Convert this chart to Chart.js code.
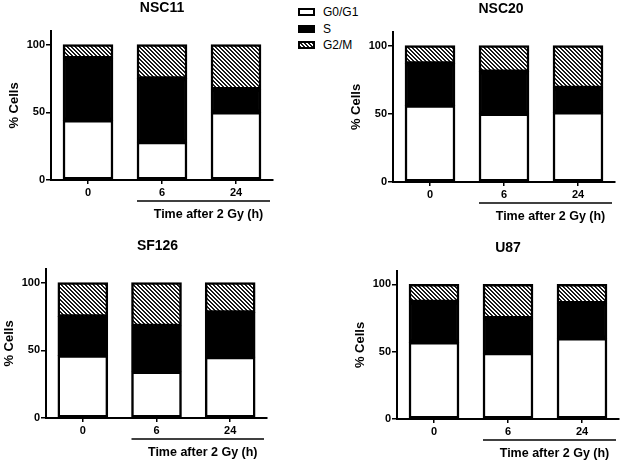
<!DOCTYPE html>
<html>
<head>
<meta charset="utf-8">
<script src="https://cdn.jsdelivr.net/npm/chart.js@4"></script>
<style>
  html, body { margin: 0; padding: 0; background: #fff; }
  body { width: 625px; height: 462px; position: relative; overflow: hidden;
         font-family: "Liberation Sans", Arial, sans-serif; }
  canvas.panel { position: absolute; left: 0; top: 0; }
  .legend { position: absolute; left: 298px; top: 0; width: 90px; height: 60px; }
  .row { position: absolute; left: 0; height: 16px; width: 90px; }
  .row canvas { position: absolute; left: 0; top: 4px; }
  .row span { position: absolute; left: 25px; top: 0; line-height: 16px; font-size: 12px; color: #000; white-space: nowrap; }
</style>
</head>
<body>
<div class="legend" id="legend"></div>
<canvas class="panel" id="p1" width="625" height="462"></canvas>
<canvas class="panel" id="p2" width="625" height="462"></canvas>
<canvas class="panel" id="p3" width="625" height="462"></canvas>
<canvas class="panel" id="p4" width="625" height="462"></canvas>
<script>
// ---------- data ----------
const categories = ['0', '6', '24'];
const phaseNames = ['G0/G1', 'S', 'G2/M'];
const panelTitles = ['NSC11', 'NSC20', 'SF126', 'U87'];
const yTickValues = [0, 50, 100];
const yAxisTitle = '% Cells';
const xAxisTitle = 'Time after 2 Gy (h)';

const nsc11G0 = [44, 28, 50];
const nsc11S  = [46, 47, 17];
const nsc11G2 = [10, 25, 33];

const nsc20G0 = [56, 50, 51];
const nsc20S  = [31, 31, 18];
const nsc20G2 = [13, 19, 31];

const sf126G0 = [46, 34, 45];
const sf126S  = [29, 34, 33];
const sf126G2 = [25, 32, 22];

const u87G0 = [57, 49, 60];
const u87S  = [30, 26, 26];
const u87G2 = [13, 25, 14];

// ---------- styling / layout ----------
const FONT = '"Liberation Sans", Arial, sans-serif';
Chart.defaults.font.family = FONT;
Chart.defaults.color = '#000';

function makeHatchTile() {
  const c = document.createElement('canvas');
  c.width = 4; c.height = 4;
  const g = c.getContext('2d');
  g.fillStyle = '#fff'; g.fillRect(0, 0, 4, 4);
  g.fillStyle = '#1a1a1a';
  for (let i = 0; i < 4; i++) {
    g.fillRect(i, i, 1, 1);
    g.fillRect((i + 1) % 4, i, 1, 1);
  }
  return c;
}
const hatchTile = makeHatchTile();
const tmpCtx = document.createElement('canvas').getContext('2d');
const hatch = tmpCtx.createPattern(hatchTile, 'repeat');
const phaseFills = ['#ffffff', '#000000', hatch];

// legend
(function buildLegend() {
  const lg = document.getElementById('legend');
  const centers = [12, 28.5, 45];
  phaseNames.forEach((name, i) => {
    const row = document.createElement('div');
    row.className = 'row';
    row.style.top = (centers[i] - 8) + 'px';
    const sw = document.createElement('canvas');
    sw.width = 17; sw.height = 8;
    const g = sw.getContext('2d');
    g.fillStyle = '#000'; g.fillRect(0, 0, 17, 8);
    g.fillStyle = phaseFills[i]; g.fillRect(2, 2, 13, 4);
    row.appendChild(sw);
    const sp = document.createElement('span');
    sp.textContent = name;
    row.appendChild(sp);
    lg.appendChild(row);
  });
})();

const BAR_W = 50;

const decor = {
  id: 'decor',
  afterDraw(chart, args, o) {
    const { ctx, chartArea: a } = chart;
    const x = chart.scales.x;
    ctx.save();
    ctx.fillStyle = '#000';
    ctx.strokeStyle = '#000';
    ctx.textAlign = 'center';
    ctx.textBaseline = 'middle';
    // panel title
    ctx.font = 'bold 14px ' + FONT;
    ctx.fillText(o.title, (a.left + a.right) / 2 + o.titleDx, a.top - 23);
    // y title
    ctx.save();
    ctx.translate(a.left - 36.5, (a.top + a.bottom) / 2);
    ctx.rotate(-Math.PI / 2);
    ctx.font = 'bold 13px ' + FONT;
    ctx.fillText(yAxisTitle, 0, 0);
    ctx.restore();
    // underline + x title
    const x0 = x.getPixelForValue(1) - BAR_W / 2;
    const x1 = a.right - 3;
    ctx.lineWidth = 1.5;
    ctx.beginPath();
    ctx.moveTo(x0, a.bottom + 21);
    ctx.lineTo(x1, a.bottom + 21);
    ctx.stroke();
    ctx.font = 'bold 12.5px ' + FONT;
    ctx.fillText(xAxisTitle, (x0 + x1) / 2 + 5, a.bottom + 34.5);
    ctx.restore();
  }
};

function makePanel(id, title, g0, s, g2, geo) {
  const W = 625, H = 462;
  const series = [g0, s, g2];
  new Chart(document.getElementById(id), {
    type: 'bar',
    data: {
      labels: categories,
      datasets: phaseNames.map((name, i) => ({
        label: name,
        data: series[i],
        backgroundColor: phaseFills[i],
        borderColor: '#000',
        borderWidth: 2.5,
        borderSkipped: false,
        barThickness: BAR_W
      }))
    },
    options: {
      responsive: false,
      animation: false,
      events: [],
      layout: { padding: { left: 0, top: geo.top, right: W - geo.right, bottom: 0 } },
      plugins: {
        legend: { display: false },
        tooltip: { enabled: false },
        title: { display: false },
        decor: { title: title, titleDx: geo.titleDx || 0 }
      },
      scales: {
        x: {
          stacked: true,
          offset: true,
          grid: { offset: false, drawOnChartArea: false, drawTicks: true, tickLength: 4, color: '#000', lineWidth: 1.5 },
          border: { display: true, color: '#000', width: 2 },
          ticks: { font: { size: 11, weight: 'bold' }, color: '#000', padding: 2, maxRotation: 0 },
          afterFit(sc) { sc.height = H - geo.bottom; }
        },
        y: {
          stacked: true,
          min: 0,
          max: 110,
          grid: { drawOnChartArea: false, drawTicks: true, tickLength: 5, color: '#000', lineWidth: 1.5 },
          border: { display: true, color: '#000', width: 2 },
          ticks: { stepSize: 50, font: { size: 11, weight: 'bold' }, color: '#000', padding: 1 },
          afterBuildTicks(sc) { sc.ticks = yTickValues.map(v => ({ value: v })); },
          afterFit(sc) { sc.width = geo.axisX; }
        }
      }
    },
    plugins: [decor]
  });
}

makePanel('p1', panelTitles[0], nsc11G0, nsc11S, nsc11G2, { axisX: 51, top: 31, bottom: 180, right: 273, titleDx: 0 });
makePanel('p2', panelTitles[1], nsc20G0, nsc20S, nsc20G2, { axisX: 393, top: 32, bottom: 182, right: 615, titleDx: -3 });
makePanel('p3', panelTitles[2], sf126G0, sf126S, sf126G2, { axisX: 46, top: 269, bottom: 418, right: 267, titleDx: 1 });
makePanel('p4', panelTitles[3], u87G0, u87S, u87G2, { axisX: 397, top: 271, bottom: 419, right: 619, titleDx: 0 });
</script>
</body>
</html>
